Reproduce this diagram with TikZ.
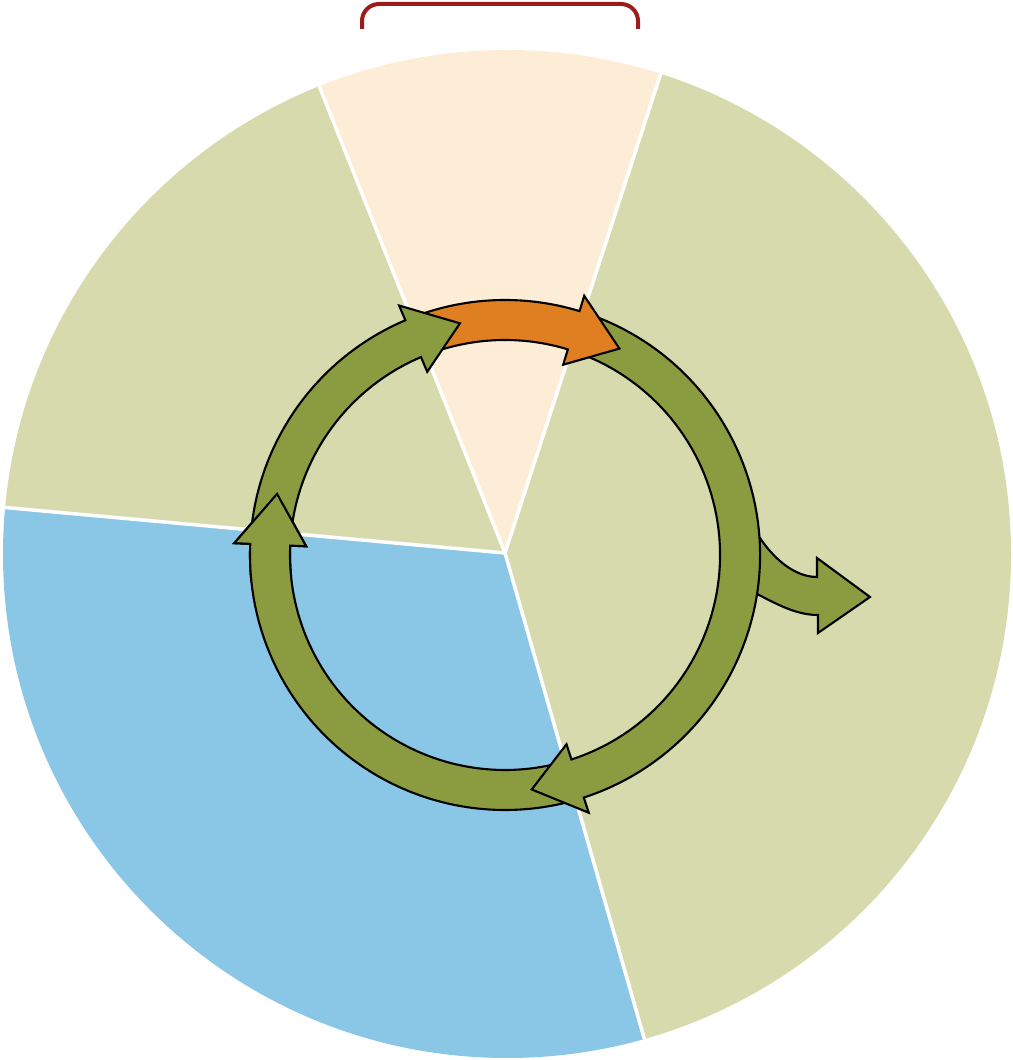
\documentclass[tikz,border=0pt]{standalone}
\usepackage{tikz}
\usetikzlibrary{calc}
\usepackage{xcolor}
\definecolor{cypeach}{HTML}{FEEDD6}
\definecolor{cysage}{HTML}{D7DAAC}
\definecolor{cysky}{HTML}{8AC7E6}
\definecolor{cygreen}{HTML}{8B9B40}
\definecolor{cyorange}{HTML}{E07F22}
\definecolor{cyred}{HTML}{9B1C1C}

\begin{document}
\begin{tikzpicture}[
  x=0.01cm, y=0.01cm,
  sector/.style={draw=none},
  spoke/.style={draw=white, line width=1pt},
  ringarrow/.style={draw=black, line width=0.6pt, line join=miter},
  bracketline/.style={draw=cyred, line width=0.04cm, rounded corners=0.17cm}
]
  \useasboundingbox (0,0) rectangle (1013,1060);

  \coordinate (hub) at (505,507);
  \coordinate (disc) at (507,506);
  \coordinate (ringc) at (505,505);

  % pie sectors
  \begin{scope}
    \clip (disc) circle[radius=504];
    \fill[cypeach] (hub) -- +(72:800) arc[start angle=72, end angle=111.7, radius=800] -- cycle;
    \fill[cysage] (hub) -- +(111.7:800) arc[start angle=111.7, end angle=174.8, radius=800] -- cycle;
    \fill[cysky] (hub) -- +(174.8:800) arc[start angle=174.8, end angle=286, radius=800] -- cycle;
    \fill[cysage] (hub) -- +(286:800) arc[start angle=286, end angle=432, radius=800] -- cycle;
    \draw[spoke] (hub) -- +(72:800);
    \draw[spoke] (hub) -- +(111.7:800);
    \draw[spoke] (hub) -- +(174.8:800);
    \draw[spoke] (hub) -- +(286:800);
  \end{scope}

  % bracket on top
  \draw[bracketline] (362,1031) -- (362,1056) -- (638,1056) -- (638,1031);

  % cycle of arrows
  \begin{scope}[shift={(ringc)}]
    % lower left
    \filldraw[ringarrow, fill=cygreen] (284:255) arc[start angle=284, end angle=177.5, radius=255]
      -- (177.5:271) -- (165:236) -- (177.5:199) -- (177.5:215)
      arc[start angle=177.5, end angle=284, radius=215] -- cycle;
    % branch out to the right
    \filldraw[ringarrow, fill=cygreen] (238,20) -- (253,20) .. controls (263,4) and (285,-22) .. (312,-22)
      -- (312,-3) -- (365,-42) -- (313,-78) -- (313,-60)
      .. controls (290,-60) and (270,-48) .. (250,-38) -- (236,-36) -- cycle;
    % right
    \filldraw[ringarrow, fill=cygreen] (69:255) arc[start angle=69, end angle=-72, radius=255]
      -- (-72:271) -- (-83.5:236) -- (-72:199) -- (-72:215)
      arc[start angle=-72, end angle=69, radius=215] -- cycle;
    % top
    \filldraw[ringarrow, fill=cyorange] (109:255) arc[start angle=109, end angle=73, radius=255]
      -- (73:271) -- (61:236) -- (73:199) -- (73:215)
      arc[start angle=73, end angle=109, radius=215] -- cycle;
    % upper left
    \filldraw[ringarrow, fill=cygreen] (174:255) arc[start angle=174, end angle=113, radius=255]
      -- (113:271) -- (101:236) -- (113:199) -- (113:215)
      arc[start angle=113, end angle=174, radius=215] -- cycle;
    % lower left head again on top
    \fill[cygreen] (186:255) arc[start angle=186, end angle=177.5, radius=255]
      -- (177.5:271) -- (165:236) -- (177.5:199) -- (177.5:215)
      arc[start angle=177.5, end angle=186, radius=215] -- cycle;
    \draw[ringarrow] (186:255) arc[start angle=186, end angle=177.5, radius=255]
      -- (177.5:271) -- (165:236) -- (177.5:199) -- (177.5:215)
      arc[start angle=177.5, end angle=186, radius=215];
  \end{scope}
\end{tikzpicture}
\end{document}
